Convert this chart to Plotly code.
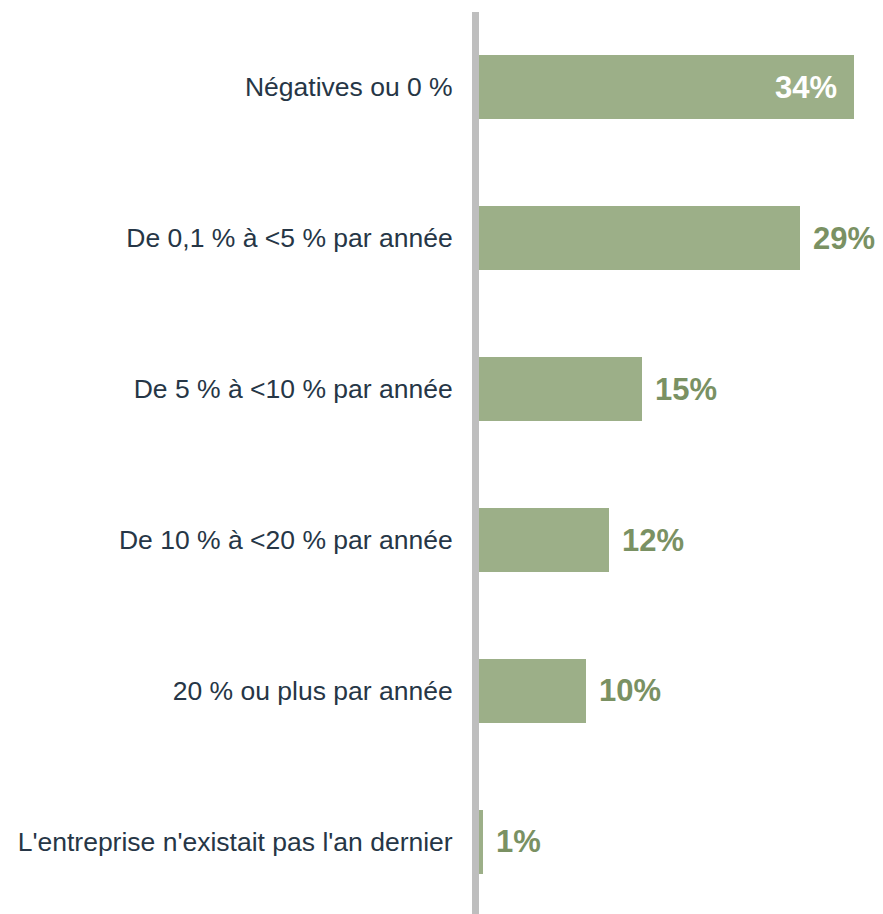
import plotly.graph_objects as go

categories = [
    "Négatives ou 0 %",
    "De 0,1 % à <5 % par année",
    "De 5 % à <10 % par année",
    "De 10 % à <20 % par année",
    "20 % ou plus par année",
    "L'entreprise n'existait pas l'an dernier",
]
values = [34.0, 29.1, 14.8, 11.8, 9.7, 0.4]
value_labels = ["34%", "29%", "15%", "12%", "10%", "1%"]

BAR = "#9caf88"
LABEL_GREEN = "#7a9163"
TEXT = "#263646"
FONT = "Liberation Sans, Arial, sans-serif"

pos = list(range(len(categories)))

fig = go.Figure()
fig.add_trace(go.Bar(
    x=values, y=pos, orientation="h",
    marker=dict(color=BAR, line=dict(width=0)),
    width=0.424, hoverinfo="skip",
))

for i, (v, lab) in enumerate(zip(values, value_labels)):
    if i == 0:
        fig.add_annotation(x=v, y=i, text=f"<b>{lab}</b>", showarrow=False,
                           xanchor="right", xshift=-15,
                           font=dict(family=FONT, size=31, color="white"))
    else:
        fig.add_annotation(x=v, y=i, text=f"<b>{lab}</b>", showarrow=False,
                           xanchor="left", xshift=11,
                           font=dict(family=FONT, size=31, color=LABEL_GREEN))

fig.update_layout(
    width=875, height=906,
    margin=dict(l=471, r=0, t=4, b=0),
    paper_bgcolor="white", plot_bgcolor="white",
    showlegend=False,
    font=dict(family=FONT, color=TEXT),
    bargap=0,
)
fig.update_xaxes(range=[0, 36.63], visible=False, showgrid=False, zeroline=False)
fig.update_yaxes(
    tickvals=pos, ticktext=categories, range=[5.477, -0.497],
    showgrid=False, zeroline=False,
    showline=True, linecolor="#bebebe", linewidth=7,
    ticks="outside", ticklen=14, tickcolor="rgba(0,0,0,0)",
    tickfont=dict(family=FONT, size=26.5, color=TEXT),
)

fig.write_html("out.html")
